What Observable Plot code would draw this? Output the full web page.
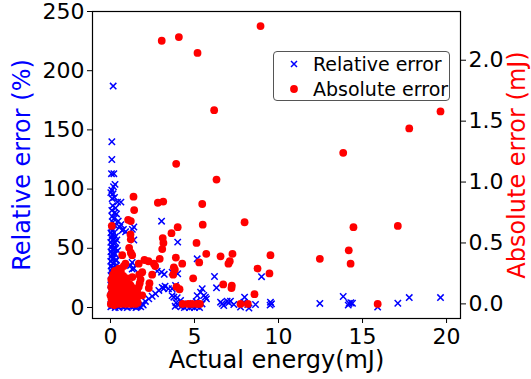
<!DOCTYPE html>
<html>
<head>
<meta charset="utf-8">
<script src="https://cdn.jsdelivr.net/npm/d3@7"></script>
<script src="https://cdn.jsdelivr.net/npm/@observablehq/plot@0.6"></script>
<style>
  html, body { margin: 0; padding: 0; background: white; }
  #wrap { position: relative; width: 531px; height: 379px; font-family: "DejaVu Sans", sans-serif; }
  #legend { position: absolute; left: 273px; top: 51px; width: 177px; height: 50px;
    border: 1px solid #555; border-radius: 4px; background: rgba(255,255,255,0.85); box-sizing: border-box; }
  #legend .row { position: absolute; left: 0; height: 24px; display: flex; align-items: center; font-size: 19px; color: #000; white-space: nowrap; }
  #legend svg { margin-left: 14px; margin-right: 13px; }
</style>
</head>
<body>
<div id="wrap"></div>
<script>
// ---- data ----
const xTicks = [0, 5, 10, 15, 20];
const leftTicks = [0, 50, 100, 150, 200, 250];
const rightTicks = [0.0, 0.5, 1.0, 1.5, 2.0];
const seriesNames = ["Relative error", "Absolute error"];

// [actual energy (mJ), relative error (%)]
const relativeErrorPts = [
  [0.16,187],[0.08,140],[0.08,125],[0.06,113],[0.2,113],[0.27,104],[0.18,102],[0.08,99],[0.02,97],[0.15,96],
  [0.24,93],[0.1,92],[0.42,89],[0.62,89],[0.13,86],[0.3,84],[0.08,82],[0.24,80],[0.36,79],[0.1,77],
  [0.2,75],[0.46,73],[0.14,72],[0.28,69],[0.55,68],[0.05,67],
  [0.03,63],[0.05,59],[0.02,55],[0.06,51],[0.03,47],[0.05,43],[0.02,39],[0.04,35],[0.06,31],[0.03,27],
  [0.05,23],[0.02,19],[0.04,15],[0.06,11],[0.03,7],[0.05,3],[0.02,0.5],
  [0.12,65],[0.1,61],[0.13,57],[0.11,53],[0.14,49],[0.1,45],[0.12,41],[0.14,37],[0.1,33],[0.13,29],
  [0.11,25],[0.14,21],[0.1,17],[0.12,13],[0.13,9],[0.1,5],[0.12,1.5],
  [0.2,63],[0.19,58],[0.22,54],[0.18,50],[0.21,46],[0.19,42],[0.22,38],[0.18,34],[0.2,30],[0.22,26],
  [0.19,22],[0.21,18],[0.18,14],[0.2,10],[0.22,6],[0.19,2],
  [0.3,60],[0.28,55],[0.31,50],[0.27,45],[0.3,40],[0.32,35],[0.28,30],[0.3,25],[0.27,20],[0.31,15],
  [0.29,10],[0.32,5],[0.28,0],
  [0.38,57],[0.42,48],[0.36,40],[0.44,33],[0.4,26],[0.37,18],[0.43,12],[0.39,6],[0.45,1],
  [0.62,70],[0.7,65],[0.77,66],[0.9,64],[1.3,66],[1.39,68],[1.39,57],[1.29,38],[1.19,35.5],[1.29,32.5],
  [1.39,33],[0.52,33],[0.55,30],
  [0.5,0],[0.62,2],[0.75,0.5],[0.88,1],[1.0,0],[1.12,2],[1.25,0.5],[1.38,1],[1.52,0],[1.65,1.5],
  [1.8,0.5],[1.95,2],
  [3.08,17],[2.88,14.4],[2.68,11.6],[2.48,9.5],[2.28,7.3],[2.08,5.1],[1.89,3.1],[1.69,1.7],[1.59,0.5],
  [3.04,72.9],[3.04,29.8],[2.78,30.7],[3.2,28],[3.67,29.8],[4.0,28.5],[3.17,16],[3.25,18],[3.45,15.8],
  [3.67,10],[3.77,8.7],[3.97,8.2],[4.17,5.9],[3.87,18.6],[3.67,15.8],
  [4.0,55.2],[5.16,41.1],[5.46,15.8],[5.36,12.9],[5.55,10.1],[5.71,7.3],[5.16,10],[5.65,8.7],
  [3.9,4],[4.05,2],[4.2,0.5],[4.4,0],[4.55,1.5],[4.7,0],[4.85,0.5],[5.0,0],[5.15,1],[5.3,0],
  [5.45,3],[4.3,3],[3.85,1],[5.1,5],[4.9,3.5],
  [6.19,26.2],[6.31,16.6],[6.55,4.5],[6.74,1.7],[7.04,4],[6.94,5.3],[7.14,5.3],[6.65,3.1],[7.34,2.5],
  [7.98,8.7],[7.94,4.5],[8.17,2.5],[8.63,2.5],[7.74,0.3],[8.24,-0.5],[8.99,26],[9.52,4.5],[9.58,3.1],[9.5,2],
  [13.85,9.3],[14.2,3.4],[14.4,3.6],[14.15,2],[14.3,4],[12.46,3.4],[15.9,0.3],[17.1,3.6],[17.78,8.4],[19.64,8.4]
];

// [actual energy (mJ), absolute error (mJ)]
const absoluteErrorPts = [
  [0.02,0.0],[0.12,0.01],[0.22,-0.01],[0.33,0.0],[0.46,0.01],[0.6,0.0],[0.74,0.01],[0.9,0.0],[1.04,0.01],[1.19,0.0],
  [1.34,0.01],[1.48,0.0],[1.62,0.01],
  [0.06,0.04],[0.27,0.03],[0.5,0.04],[0.71,0.03],[0.95,0.04],[1.16,0.03],[1.39,0.04],[1.58,0.05],
  [0.0,0.07],[0.16,0.07],[0.37,0.06],[0.56,0.08],[0.81,0.07],[1.02,0.06],[1.26,0.07],[1.44,0.06],
  [0.1,0.1],[0.31,0.11],[0.5,0.1],[0.69,0.11],[0.92,0.1],[1.12,0.11],[1.31,0.1],
  [0.04,0.14],[0.24,0.13],[0.45,0.14],[0.66,0.13],[0.86,0.14],[1.06,0.13],[1.24,0.14],
  [0.11,0.17],[0.31,0.18],[0.52,0.17],[0.72,0.18],[0.95,0.17],[1.15,0.16],
  [0.05,0.2],[0.21,0.21],[0.41,0.2],[0.6,0.21],[0.79,0.2],[1.0,0.21],
  [0.15,0.24],[0.35,0.23],[0.55,0.24],[0.76,0.23],
  [0.26,0.27],[0.44,0.26],[0.62,0.27],
  [1.3,0.22],[1.2,0.15],[1.4,0.12],[0.5,0.29],
  [0.89,0.33],[0.79,0.31],[1.79,0.20],[1.59,0.11],[1.49,0.09],[1.89,0.26],
  [8.93,2.28],[3.05,2.16],[4.07,2.19],[5.18,2.06],[6.17,1.59],[3.91,1.15],[6.31,1.02],[1.37,0.88],[1.41,0.77],[2.82,0.83],
  [3.14,0.84],[5.46,0.82],[0.08,0.64],[1.05,0.69],[1.21,0.68],[7.98,0.67],[5.49,0.65],[4.0,0.63],[3.63,0.58],[1.19,0.57],
  [1.21,0.53],[3.11,0.54],[3.15,0.50],[3.08,0.45],[5.12,0.50],[1.11,0.46],[1.21,0.42],[1.29,0.40],[0.70,0.40],[5.70,0.41],
  [6.55,0.39],[7.26,0.41],[9.52,0.40],[3.89,0.38],[2.93,0.37],[2.02,0.36],[2.26,0.35],[1.68,0.33],[7.10,0.35],[7.02,0.33],
  [5.28,0.34],[2.58,0.33],[2.66,0.31],[4.27,0.33],[3.77,0.30],[3.83,0.28],[3.73,0.24],[8.75,0.29],[9.46,0.25],[2.48,0.24],
  [1.71,0.24],[4.92,0.21],[1.74,0.17],[1.68,0.14],[2.32,0.17],[2.28,0.13],[6.71,0.16],[7.22,0.15],[7.20,0.13],[3.93,0.14],
  [4.11,0.12],[8.57,0.08],[1.89,0.07],[4.29,0],[4.62,0],[4.86,0],[5.16,0],[5.32,0],[7.74,0],[8.17,0],
  [19.64,1.58],[17.78,1.44],[13.85,1.24],[14.46,0.63],[17.1,0.64],[14.18,0.44],[14.29,0.33],[12.46,0.37],[15.9,0.0]
];

// ---- scales ----
const xDomain = [-1.07, 20.83];
const leftDomain = [-9.3, 250];
const rightDomain = [-0.12, 2.40];
const toLeft = a => leftDomain[0] + (a - rightDomain[0]) / (rightDomain[1] - rightDomain[0]) * (leftDomain[1] - leftDomain[0]);
const fromLeft = v => rightDomain[0] + (v - leftDomain[0]) / (leftDomain[1] - leftDomain[0]) * (rightDomain[1] - rightDomain[0]);
const fmt1 = d3.format(".1f");

const BLUE = "#0000ff", RED = "#ff0000";

const chart = Plot.plot({
  width: 531,
  height: 379,
  marginLeft: 92,
  marginRight: 71,
  marginTop: 11,
  marginBottom: 61,
  x: { domain: xDomain },
  y: { domain: leftDomain },
  style: { fontFamily: "DejaVu Sans", background: "white", overflow: "visible" },
  marks: [
    Plot.dot(relativeErrorPts, { x: d => d[0], y: d => d[1], symbol: "times", stroke: BLUE, strokeWidth: 1.5, r: 3 }),
    Plot.dot(absoluteErrorPts, { x: d => d[0], y: d => toLeft(d[1]), fill: RED, stroke: null, r: 3.9 }),
    Plot.frame({ stroke: "black", strokeWidth: 1.2 }),
    Plot.axisX({ ticks: xTicks, tickSize: 5, tickPadding: 4.5, fontSize: 22, label: null, stroke: "black", fill: "black" }),
    Plot.axisY({ ticks: leftTicks, tickSize: 5, tickPadding: 3, fontSize: 22, label: null, stroke: "black", fill: "black" }),
    Plot.axisY(rightTicks.map(toLeft), { anchor: "right", tickSize: 5, tickPadding: 3, fontSize: 22, label: null,
      tickFormat: d => fmt1(fromLeft(d)), stroke: "black", fill: "black" }),
    Plot.text(["Relative error (%)"], { frameAnchor: "left", dx: -70, rotate: -90, textAnchor: "middle", lineAnchor: "middle", fill: BLUE, fontSize: 24 }),
    Plot.text(["Absolute error (mJ)"], { frameAnchor: "right", dx: 57, rotate: -90, textAnchor: "middle", lineAnchor: "middle", fill: RED, fontSize: 24 }),
    Plot.text(["Actual energy(mJ)"], { frameAnchor: "bottom", dy: 42, textAnchor: "middle", lineAnchor: "middle", fill: "black", fontSize: 24 })
  ]
});

const wrap = document.getElementById("wrap");
wrap.appendChild(chart);

// legend
const legend = document.createElement("div");
legend.id = "legend";
legend.innerHTML =
  `<div class="row" style="top:0px"><svg width="12" height="12" viewBox="-6 -6 12 12"><path d="M-3,-3L3,3M-3,3L3,-3" stroke="${BLUE}" stroke-width="1.5"/></svg>${seriesNames[0]}</div>` +
  `<div class="row" style="top:25px"><svg width="12" height="12" viewBox="-6 -6 12 12"><circle r="3.9" fill="${RED}"/></svg>${seriesNames[1]}</div>`;
wrap.appendChild(legend);
</script>
</body>
</html>
